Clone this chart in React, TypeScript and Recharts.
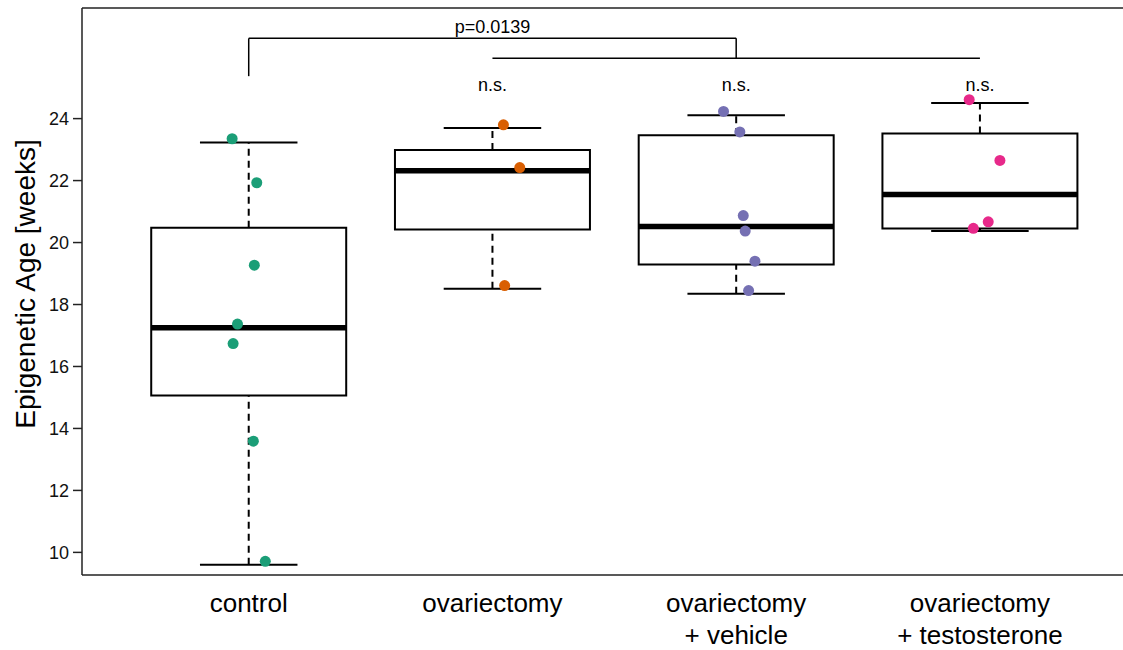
import React from 'react';
import {
  ComposedChart,
  Scatter,
  XAxis,
  YAxis,
  ReferenceArea,
  ReferenceLine,
  ReferenceDot,
} from 'recharts';

/* Epigenetic age by treatment group — R-style boxplot with jittered points */

const categoryLabels = [
  ['control'],
  ['ovariectomy'],
  ['ovariectomy', '+ vehicle'],
  ['ovariectomy', '+ testosterone'],
];
const groupColors = ['#1b9e77', '#d95f02', '#7570b3', '#e7298a'];

// box statistics per group
const whiskerLow = [9.6, 18.51, 18.35, 20.37];
const q1 = [15.06, 20.42, 19.29, 20.45];
const median = [17.25, 22.32, 20.52, 21.55];
const q3 = [20.48, 22.99, 23.46, 23.52];
const whiskerHigh = [23.23, 23.7, 24.11, 24.5];

// individual samples and their horizontal jitter (in group units)
const controlAges = [23.35, 21.93, 19.27, 17.37, 16.74, 13.59, 9.71];
const controlJitter = [-0.068, 0.033, 0.023, -0.046, -0.064, 0.019, 0.068];
const ovxAges = [23.8, 22.42, 18.61];
const ovxJitter = [0.045, 0.112, 0.05];
const vehicleAges = [24.23, 23.57, 20.87, 20.37, 19.4, 18.45];
const vehicleJitter = [-0.052, 0.015, 0.029, 0.037, 0.077, 0.051];
const testoAges = [24.61, 22.65, 20.67, 20.46];
const testoJitter = [-0.044, 0.082, 0.034, -0.027];

const yTicks = [10, 12, 14, 16, 18, 20, 22, 24];
const Y_MIN = 9.27;
const Y_MAX = 27.57;
const X_MIN = 0.316;
const X_MAX = 4.587;

// significance annotations
const pLabel = 'p=0.0139';
const nsLabel = 'n.s.';
const bracketLow = 25.37;
const bracketTop = 26.59;
const bracketMid = 25.95;
const pLabelY = 26.98;
const nsY = 25.1;

const BOX_HALF = 0.4;
const CAP_HALF = 0.2;
const FONT = '"Liberation Sans", Arial, Helvetica, sans-serif';

const groups = [
  { ages: controlAges, jitter: controlJitter },
  { ages: ovxAges, jitter: ovxJitter },
  { ages: vehicleAges, jitter: vehicleJitter },
  { ages: testoAges, jitter: testoJitter },
];

const scatterData = groups.map((g, i) =>
  g.ages.map((age, j) => ({ x: i + 1 + g.jitter[j], y: age }))
);

function CategoryTick(props: any) {
  const { x, y, payload } = props;
  const lines = categoryLabels[Math.round(payload.value) - 1] || [];
  return (
    <text x={x} y={y} textAnchor="middle" fontSize={26} fill="#000" fontFamily={FONT}>
      {lines.map((line, i) => (
        <tspan key={i} x={x} dy={i === 0 ? 37 : 32}>
          {line}
        </tspan>
      ))}
    </text>
  );
}

export default function App() {
  return (
    <div style={{ width: 1123, height: 650, background: '#fff' }}>
      <style>{'body{margin:0}'}</style>
      <ComposedChart
        width={1123}
        height={650}
        margin={{ top: 8, right: 0, left: 0, bottom: 0 }}
        style={{ fontFamily: FONT }}
      >
        <XAxis
          type="number"
          dataKey="x"
          domain={[X_MIN, X_MAX]}
          ticks={[1, 2, 3, 4]}
          allowDataOverflow
          height={75}
          tickLine={false}
          tickSize={0}
          tickMargin={0}
          tick={<CategoryTick />}
          axisLine={{ stroke: '#222', strokeWidth: 1.5 }}
        />
        <YAxis
          type="number"
          dataKey="y"
          domain={[Y_MIN, Y_MAX]}
          ticks={yTicks}
          allowDataOverflow
          width={82}
          tickSize={9}
          tickMargin={4}
          tick={{ fontSize: 18, fill: '#111', fontFamily: FONT }}
          tickLine={{ stroke: '#222', strokeWidth: 1.5 }}
          axisLine={{ stroke: '#222', strokeWidth: 1.5 }}
          label={{
            content: () => (
              <text
                x={25}
                y={284}
                transform="rotate(-90, 25, 284)"
                textAnchor="middle"
                dominantBaseline="central"
                fontSize={28}
                fill="#000"
                fontFamily={FONT}
              >
                Epigenetic Age [weeks]
              </text>
            ),
          }}
        />
        <ReferenceLine y={Y_MAX} stroke="#222" strokeWidth={1.5} ifOverflow="visible" />

        {categoryLabels.map((_, i) => {
          const c = i + 1;
          return (
            <React.Fragment key={i}>
              <ReferenceLine
                segment={[{ x: c, y: q3[i] }, { x: c, y: whiskerHigh[i] }]}
                stroke="#000"
                strokeWidth={2}
                strokeDasharray="7 5"
              />
              <ReferenceLine
                segment={[{ x: c, y: whiskerLow[i] }, { x: c, y: q1[i] }]}
                stroke="#000"
                strokeWidth={2}
                strokeDasharray="7 5"
              />
              <ReferenceLine
                segment={[{ x: c - CAP_HALF, y: whiskerHigh[i] }, { x: c + CAP_HALF, y: whiskerHigh[i] }]}
                stroke="#000"
                strokeWidth={2}
              />
              <ReferenceLine
                segment={[{ x: c - CAP_HALF, y: whiskerLow[i] }, { x: c + CAP_HALF, y: whiskerLow[i] }]}
                stroke="#000"
                strokeWidth={2}
              />
              <ReferenceArea
                x1={c - BOX_HALF}
                x2={c + BOX_HALF}
                y1={q1[i]}
                y2={q3[i]}
                fill="#fff"
                fillOpacity={0}
                stroke="#000"
                strokeWidth={2}
                strokeOpacity={1}
              />
              <ReferenceLine
                segment={[{ x: c - BOX_HALF, y: median[i] }, { x: c + BOX_HALF, y: median[i] }]}
                stroke="#000"
                strokeWidth={5.5}
              />
            </React.Fragment>
          );
        })}

        {/* significance brackets */}
        <ReferenceLine segment={[{ x: 1, y: bracketLow }, { x: 1, y: bracketTop }]} stroke="#000" strokeWidth={1.5} />
        <ReferenceLine segment={[{ x: 1, y: bracketTop }, { x: 3, y: bracketTop }]} stroke="#000" strokeWidth={1.5} />
        <ReferenceLine segment={[{ x: 3, y: bracketTop }, { x: 3, y: bracketMid }]} stroke="#000" strokeWidth={1.5} />
        <ReferenceLine segment={[{ x: 2, y: bracketMid }, { x: 4, y: bracketMid }]} stroke="#000" strokeWidth={1.5} />
        <ReferenceDot
          x={2}
          y={pLabelY}
          r={0}
          stroke="none"
          fill="none"
          label={{ value: pLabel, position: 'center', fontSize: 18, fill: '#000', fontFamily: FONT }}
        />
        {[2, 3, 4].map((c) => (
          <ReferenceDot
            key={c}
            x={c}
            y={nsY}
            r={0}
            stroke="none"
            fill="none"
            label={{ value: nsLabel, position: 'center', fontSize: 18, fill: '#000', fontFamily: FONT }}
          />
        ))}

        {scatterData.map((data, i) => (
          <Scatter
            key={i}
            data={data}
            isAnimationActive={false}
            shape={(p: any) => <circle cx={p.cx} cy={p.cy} r={5.5} fill={groupColors[i]} />}
          />
        ))}
      </ComposedChart>
    </div>
  );
}
